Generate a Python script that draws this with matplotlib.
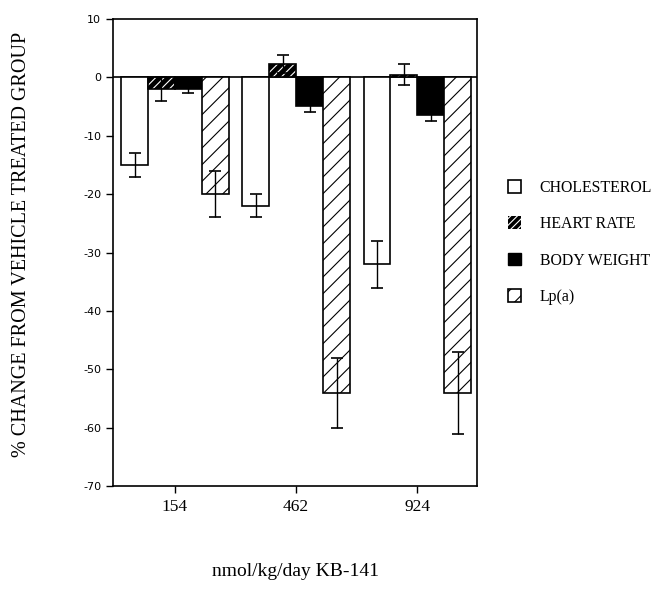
import matplotlib
matplotlib.use("Agg")
import matplotlib.pyplot as plt
import numpy as np
from matplotlib.patches import Patch

doses = ["154", "462", "924"]
series = ["CHOLESTEROL", "HEART RATE", "BODY WEIGHT", "Lp(a)"]
cholesterol = [-15, -22, -32]
heart_rate = [-2, 2.3, 0.4]
body_weight = [-2, -5, -6.5]
lpa = [-20, -54, -54]
cholesterol_err = [2, 2, 4]
heart_rate_err = [2, 1.5, 1.8]
body_weight_err = [0.7, 0.9, 1.0]
lpa_err = [4, 6, 7]
yticks = [-70, -60, -50, -40, -30, -20, -10, 0, 10]

serif = ["Liberation Serif", "DejaVu Serif"]
plt.rcParams['hatch.linewidth'] = 0.8

fig = plt.figure(figsize=(6.65, 5.9), dpi=100)
ax = fig.add_axes([0.170, 0.176, 0.547, 0.792])

x = np.arange(len(doses))
w = 0.222
offs = [-1.5 * w, -0.5 * w, 0.5 * w, 1.5 * w]

vals = [cholesterol, heart_rate, body_weight, lpa]
errs = [cholesterol_err, heart_rate_err, body_weight_err, lpa_err]

# cholesterol: white
ax.bar(x + offs[0], cholesterol, w, color="white", edgecolor="black", linewidth=1.2, zorder=2)
# heart rate: black with white hatch
ax.bar(x + offs[1], heart_rate, w, color="black", edgecolor="white", hatch="////", linewidth=0, zorder=2)
ax.bar(x + offs[1], heart_rate, w, fill=False, edgecolor="black", linewidth=1.2, zorder=2)
# body weight: black
ax.bar(x + offs[2], body_weight, w, color="black", edgecolor="black", linewidth=1.2, zorder=2)
# Lp(a): white with black hatch
ax.bar(x + offs[3], lpa, w, color="white", edgecolor="black", hatch="//", linewidth=1.2, zorder=2)

for i in range(4):
    ax.errorbar(x + offs[i], vals[i], yerr=errs[i], fmt="none", ecolor="black",
                elinewidth=1.0, capsize=4, capthick=1.2, zorder=3)

ax.axhline(0, color="black", linewidth=1.2, zorder=1)

ax.set_xlim(-0.51, 2.49)
ax.set_ylim(-70, 10)
ax.set_yticks(yticks)
ax.set_yticklabels([str(t) for t in yticks], fontsize=8)
ax.set_xticks(x)
ax.set_xticklabels(doses, fontsize=12.5, family=serif)
ax.tick_params(direction="out", length=5, width=1, colors="black")
ax.tick_params(axis="x", pad=4)
for s in ax.spines.values():
    s.set_linewidth(1.2)

fig.text(22 / 665, 1 - 244 / 590, "% CHANGE FROM VEHICLE TREATED GROUP", rotation=90,
         fontsize=14.5, family=serif, ha="center", va="center")
fig.text(296 / 665, 1 - 572 / 590, "nmol/kg/day KB-141", fontsize=14, family=serif,
         ha="center", va="center")

handles = [
    Patch(facecolor="white", edgecolor="black", linewidth=1.2),
    Patch(facecolor="black", edgecolor="white", hatch="/////", linewidth=0),
    Patch(facecolor="black", edgecolor="black"),
    Patch(facecolor="white", edgecolor="black", hatch="//", linewidth=1.2),
]
leg = fig.legend(handles, series, loc="upper left", bbox_to_anchor=(508 / 665, 1 - 180 / 590),
                 frameon=False, handlelength=0.85, handleheight=0.85, handletextpad=1.15,
                 labelspacing=1.28, borderpad=0, borderaxespad=0,
                 prop={"family": serif, "size": 11.4})

fig.savefig("out.png", dpi=100)
